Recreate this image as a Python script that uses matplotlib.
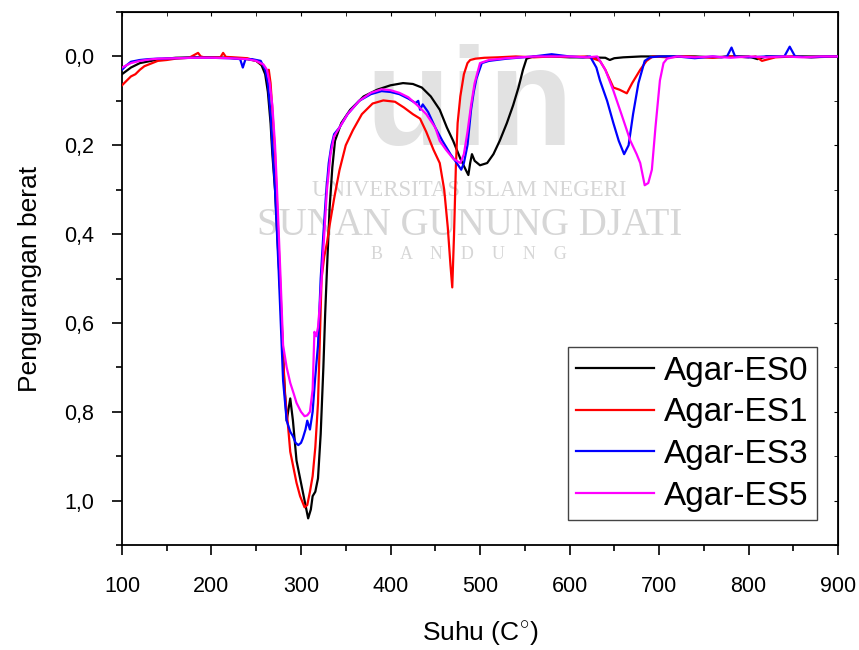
import matplotlib
matplotlib.use("Agg")
import matplotlib.pyplot as plt

plt.rcParams['font.family'] = ['Liberation Sans', 'DejaVu Sans']
plt.rcParams['mathtext.fontset'] = 'custom'
plt.rcParams['mathtext.rm'] = 'Liberation Sans'

# ---------------- data ----------------
es0_x = [100, 110, 120, 140, 160, 180, 200, 220, 240, 250, 256, 260, 263, 266, 268, 271, 273, 275,
         277, 279, 281, 284, 288, 291, 295, 301, 305, 308, 311, 313, 316, 319, 322, 325, 327, 329,
         332, 335, 338, 345, 355, 370, 385, 400, 414, 425, 435, 445, 455, 463, 470, 478, 484, 487,
         489, 491, 494, 500, 508, 515, 522, 530, 537, 543, 548, 552, 560, 580, 600, 620, 640, 645,
         650, 660, 680, 700, 720, 740, 760, 780, 800, 810, 820, 840, 860, 880, 900]
es0_y = [0.040, 0.025, 0.015, 0.007, 0.003, 0.002, 0.002, 0.003, 0.006, 0.010, 0.020, 0.040, 0.080,
         0.150, 0.220, 0.300, 0.380, 0.460, 0.540, 0.630, 0.720, 0.820, 0.770, 0.820, 0.910, 0.970,
         1.010, 1.040, 1.020, 0.990, 0.980, 0.950, 0.850, 0.700, 0.580, 0.480, 0.340, 0.250, 0.190,
         0.150, 0.120, 0.090, 0.075, 0.065, 0.060, 0.062, 0.070, 0.090, 0.120, 0.160, 0.190, 0.230,
         0.255, 0.267, 0.240, 0.220, 0.235, 0.245, 0.240, 0.220, 0.190, 0.150, 0.110, 0.070, 0.030,
         0.005, 0.000, 0.000, 0.002, 0.002, 0.003, 0.008, 0.004, 0.002, 0.000, 0.000, 0.000, 0.000,
         0.002, 0.000, 0.000, 0.006, 0.000, 0.001, 0.000, 0.000, 0.000]

es1_x = [100, 105, 110, 115, 120, 125, 130, 140, 150, 160, 175, 185, 188, 192, 200, 210, 213, 216,
         225, 240, 250, 258, 262, 264, 266, 268, 271, 273, 275, 277, 279, 282, 285, 288, 291, 295,
         299, 302, 304, 307, 310, 313, 316, 319, 323, 326, 329, 332, 337, 343, 350, 358, 368, 380,
         392, 405, 415, 425, 433, 440, 448, 455, 460, 464, 467, 469, 471, 473, 475, 478, 482, 486,
         489, 495, 505, 520, 540, 560, 580, 600, 620, 634, 640, 649, 656, 664, 670, 679, 686, 693,
         710, 730, 760, 780, 800, 808, 815, 830, 850, 870, 900]
es1_y = [0.065, 0.055, 0.045, 0.040, 0.030, 0.022, 0.018, 0.010, 0.008, 0.005, 0.003, -0.008, 0.000,
         0.002, 0.002, 0.002, -0.008, 0.001, 0.002, 0.004, 0.010, 0.020, 0.035, 0.030, 0.060, 0.120,
         0.220, 0.320, 0.420, 0.520, 0.620, 0.760, 0.820, 0.890, 0.920, 0.960, 0.990, 1.005, 1.015,
         1.010, 0.980, 0.945, 0.880, 0.780, 0.500, 0.450, 0.420, 0.380, 0.320, 0.256, 0.200, 0.166,
         0.130, 0.106, 0.099, 0.102, 0.115, 0.130, 0.140, 0.170, 0.210, 0.240, 0.300, 0.385, 0.470,
         0.520, 0.400, 0.250, 0.150, 0.090, 0.040, 0.015, 0.008, 0.005, 0.003, 0.002, 0.000, 0.002,
         0.000, 0.001, 0.000, 0.010, 0.030, 0.070, 0.075, 0.083, 0.060, 0.030, 0.010, 0.000, 0.002,
         0.000, 0.003, 0.000, 0.002, 0.000, 0.010, 0.002, 0.000, 0.002, 0.000]

es3_x = [100, 105, 110, 120, 130, 140, 160, 180, 200, 220, 232, 235, 238, 245, 255, 260, 263, 266,
         268, 271, 273, 275, 277, 280, 284, 288, 291, 294, 297, 300, 302, 305, 307, 310, 313, 316,
         319, 322, 325, 328, 331, 334, 337, 343, 352, 365, 378, 390, 400, 410, 420, 428, 431, 433,
         436, 442, 450, 458, 467, 474, 479, 482, 486, 490, 493, 496, 502, 510, 530, 560, 580, 600,
         615, 623, 630, 634, 642, 649, 655, 661, 666, 671, 677, 684, 690, 700, 720, 740, 760, 770,
         776, 781, 785, 800, 820, 840, 846, 852, 870, 890, 900]
es3_y = [0.030, 0.020, 0.012, 0.008, 0.006, 0.005, 0.004, 0.003, 0.003, 0.004, 0.006, 0.025, 0.006,
         0.006, 0.010, 0.030, 0.060, 0.130, 0.200, 0.300, 0.390, 0.480, 0.580, 0.730, 0.820, 0.845,
         0.855, 0.870, 0.875, 0.870, 0.860, 0.840, 0.820, 0.840, 0.800, 0.720, 0.650, 0.500, 0.400,
         0.310, 0.240, 0.200, 0.175, 0.160, 0.130, 0.100, 0.085, 0.078, 0.080, 0.085, 0.095, 0.105,
         0.100, 0.120, 0.108, 0.125, 0.160, 0.190, 0.220, 0.240, 0.255, 0.240, 0.200, 0.120, 0.080,
         0.050, 0.015, 0.010, 0.005, 0.000, -0.005, 0.000, 0.002, 0.000, 0.025, 0.054, 0.100, 0.150,
         0.190, 0.220, 0.200, 0.130, 0.060, 0.010, 0.002, 0.000, 0.000, 0.004, 0.000, 0.002, 0.000,
         -0.020, 0.000, 0.002, 0.000, 0.000, -0.022, 0.000, 0.002, 0.000, 0.000]

es5_x = [100, 110, 120, 130, 140, 160, 180, 200, 220, 240, 250, 258, 262, 265, 268, 271, 273, 275,
         277, 280, 284, 288, 292, 295, 300, 304, 307, 310, 313, 315, 317, 319, 321, 323, 326, 329,
         333, 337, 343, 352, 365, 378, 390, 400, 410, 420, 430, 440, 450, 455, 462, 470, 478, 482,
         486, 490, 494, 500, 510, 530, 560, 600, 620, 631, 640, 649, 658, 668, 675, 679, 684, 688,
         692, 696, 701, 705, 709, 720, 740, 760, 780, 800, 820, 840, 860, 880, 900]
es5_y = [0.025, 0.015, 0.010, 0.007, 0.005, 0.004, 0.003, 0.003, 0.004, 0.006, 0.010, 0.018, 0.030,
         0.060, 0.110, 0.200, 0.290, 0.390, 0.490, 0.650, 0.700, 0.735, 0.760, 0.780, 0.800, 0.810,
         0.808, 0.800, 0.750, 0.620, 0.630, 0.610, 0.560, 0.500, 0.400, 0.300, 0.220, 0.180, 0.160,
         0.130, 0.100, 0.082, 0.074, 0.076, 0.082, 0.092, 0.110, 0.130, 0.160, 0.190, 0.210, 0.230,
         0.240, 0.220, 0.170, 0.110, 0.060, 0.015, 0.008, 0.004, 0.000, 0.000, 0.002, 0.000, 0.030,
         0.077, 0.130, 0.190, 0.220, 0.240, 0.290, 0.285, 0.255, 0.160, 0.054, 0.015, 0.005, 0.000,
         0.002, 0.000, 0.003, 0.000, 0.002, 0.000, 0.002, 0.000, 0.000]

series_labels = ['Agar-ES0', 'Agar-ES1', 'Agar-ES3', 'Agar-ES5']
series_colors = ['#000000', '#ff0000', '#0000ff', '#ff00ff']

x_ticks = [100, 200, 300, 400, 500, 600, 700, 800, 900]
y_ticks = [0.0, 0.2, 0.4, 0.6, 0.8, 1.0]
y_tick_labels = ['0,0', '0,2', '0,4', '0,6', '0,8', '1,0']

# ---------------- figure ----------------
fig = plt.figure(figsize=(8.59, 6.5), dpi=100)
ax = fig.add_axes([0.142, 0.1615, 0.8336, 0.82])

# watermark
wm = '#d6d6d6'
ax.text(0.485, 0.75, 'uin', transform=ax.transAxes, ha='center', va='baseline',
        fontsize=100, color='#e2e2e2', zorder=0, family='Liberation Sans', fontweight='bold')
ax.text(0.485, 0.665, 'UNIVERSITAS ISLAM NEGERI', transform=ax.transAxes, ha='center', va='center',
        fontsize=16.5, color=wm, zorder=0, family='Liberation Serif')
ax.text(0.485, 0.60, 'SUNAN GUNUNG DJATI', transform=ax.transAxes, ha='center', va='center',
        fontsize=28, color=wm, zorder=0, family='Liberation Serif')
ax.text(0.485, 0.545, 'B    A    N    D    U    N    G', transform=ax.transAxes, ha='center',
        va='center', fontsize=13, color=wm, zorder=0, family='Liberation Serif')

data = [(es0_x, es0_y), (es1_x, es1_y), (es3_x, es3_y), (es5_x, es5_y)]
for (xs, ys), lab, col in zip(data, series_labels, series_colors):
    ax.plot(xs, ys, color=col, lw=1.6, label=lab, zorder=3)

ax.set_xlim(100, 900)
ax.set_ylim(1.1, -0.1)
ax.set_xticks(x_ticks)
ax.set_xticks([150, 250, 350, 450, 550, 650, 750, 850], minor=True)
ax.set_yticks(y_ticks)
ax.set_yticklabels(y_tick_labels)
ax.set_yticks([-0.1, 0.1, 0.3, 0.5, 0.7, 0.9, 1.1], minor=True)

ax.tick_params(axis='both', which='major', direction='out', length=7, width=1.2, labelsize=15.5)
ax.tick_params(axis='both', which='minor', direction='out', length=4.5, width=1.2)
ax.tick_params(axis='x', which='major', pad=15)
ax.tick_params(axis='y', which='major', pad=13)
for sp in ax.spines.values():
    sp.set_linewidth(1.3)

secx = ax.secondary_xaxis('top')
secx.set_xticks(x_ticks)
secx.set_xticks([150, 250, 350, 450, 550, 650, 750, 850], minor=True)
secx.tick_params(which='both', direction='in', length=3, labeltop=False)
secy = ax.secondary_yaxis('right')
secy.set_yticks(y_ticks)
secy.set_yticks([-0.1, 0.1, 0.3, 0.5, 0.7, 0.9, 1.1], minor=True)
secy.tick_params(which='both', direction='in', length=3, labelright=False)

ax.set_xlabel(r'Suhu (C$^{\circ}$)', fontsize=19, labelpad=16)
ax.set_ylabel('Pengurangan berat', fontsize=19, labelpad=16)

leg = ax.legend(loc='lower right', bbox_to_anchor=(0.971, 0.047), borderaxespad=0,
                fontsize=24, handlelength=2.35, handletextpad=0.3, labelspacing=0.32,
                fancybox=False, framealpha=1, edgecolor='#444444', borderpad=0.25)
leg.get_frame().set_linewidth(1.0)

fig.savefig('out.png', dpi=100)
